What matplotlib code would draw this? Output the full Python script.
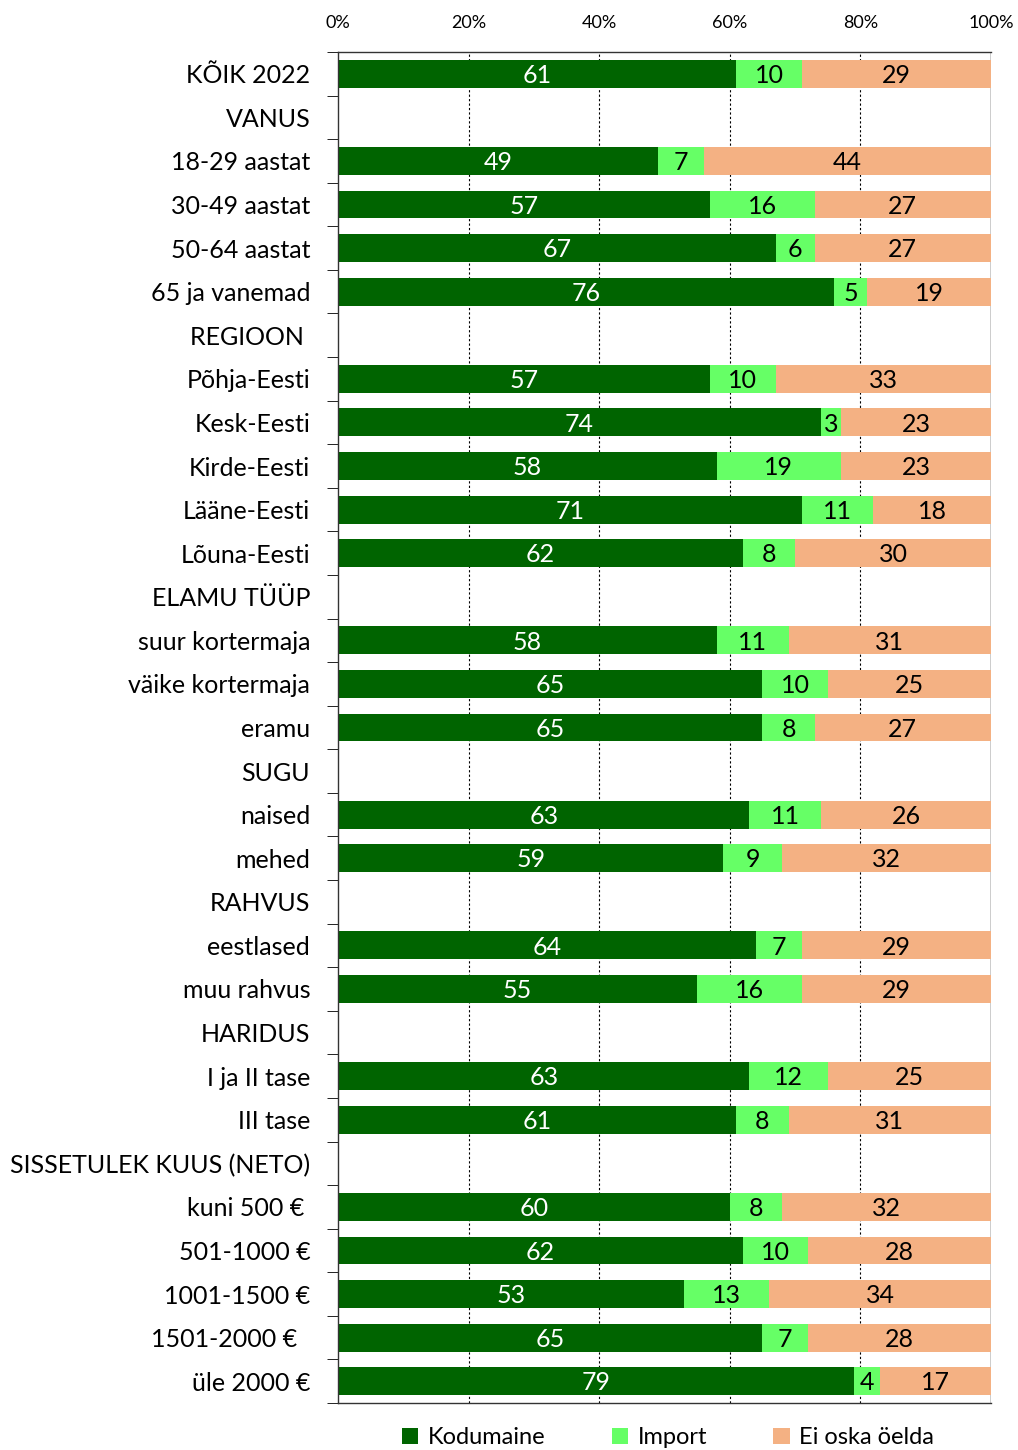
import matplotlib.pyplot as plt
import numpy as np

plt.rcParams['font.family'] = ['Lato', 'DejaVu Sans']

labels = ['KÕIK 2022', 'VANUS', '18-29 aastat', '30-49 aastat', '50-64 aastat', '65 ja vanemad',
          'REGIOON ', 'Põhja-Eesti', 'Kesk-Eesti', 'Kirde-Eesti', 'Lääne-Eesti', 'Lõuna-Eesti',
          'ELAMU TÜÜP', 'suur kortermaja', 'väike kortermaja', 'eramu', 'SUGU', 'naised', 'mehed',
          'RAHVUS', 'eestlased', 'muu rahvus', 'HARIDUS', 'I ja II tase', 'III tase',
          'SISSETULEK KUUS (NETO)', 'kuni 500 € ', '501-1000 €', '1001-1500 €', '1501-2000 €  ', 'üle 2000 €']

# None = header row, no bar
kodumaine = [61, None, 49, 57, 67, 76, None, 57, 74, 58, 71, 62, None, 58, 65, 65, None, 63, 59,
             None, 64, 55, None, 63, 61, None, 60, 62, 53, 65, 79]
import_ = [10, None, 7, 16, 6, 5, None, 10, 3, 19, 11, 8, None, 11, 10, 8, None, 11, 9,
           None, 7, 16, None, 12, 8, None, 8, 10, 13, 7, 4]
ei_oska = [29, None, 44, 27, 27, 19, None, 33, 23, 23, 18, 30, None, 31, 25, 27, None, 26, 32,
           None, 29, 29, None, 25, 31, None, 32, 28, 34, 28, 17]

series = [('Kodumaine', kodumaine, '#006400', 'white'),
          ('Import', import_, '#66FF66', 'black'),
          ('Ei oska öelda', ei_oska, '#F4B183', 'black')]

fig = plt.figure(figsize=(10.18, 14.5), dpi=100)
ax = fig.add_axes([338/1018, 47/1450, 653/1018, 1351/1450])

n = len(labels)
y = np.arange(n)
left = np.zeros(n)
for name, vals, col, tcol in series:
    v = np.array([0 if x is None else x for x in vals], dtype=float)
    ax.barh(y, v, left=left, height=0.64, color=col, label=name, zorder=2)
    for i in range(n):
        if vals[i] is None:
            continue
        ax.text(left[i] + v[i] / 2, y[i] + 0.04, str(vals[i]), ha='center', va='center',
                color=tcol, fontsize=18, zorder=3)
    left = left + v

ax.set_xlim(0, 100)
ax.set_ylim(n - 0.5, -0.5)
ax.set_yticks(y)
ax.set_yticklabels(labels, fontsize=18)
ax.set_yticks(np.arange(-0.5, n, 1), minor=True)
ax.tick_params(axis='y', which='major', length=0, pad=20)
ax.tick_params(axis='y', which='minor', length=8, direction='out')

ax.xaxis.tick_top()
ax.set_xticks([0, 20, 40, 60, 80, 100])
ax.set_xticklabels(['0%', '20%', '40%', '60%', '80%', '100%'], fontsize=13)
ax.tick_params(axis='x', length=0, pad=15)
for xv in [20, 40, 60, 80]:
    ax.axvline(xv, color='black', lw=0.8, ls=(0, (2, 2)), zorder=1)
ax.axvline(100, color='black', lw=1, zorder=1)
for s in ax.spines.values():
    s.set_color('#333333')
    s.set_linewidth(1)
ax.spines['right'].set_visible(False)

h, l = ax.get_legend_handles_labels()
fig.legend(h, l, loc='lower center', bbox_to_anchor=(668/1018, -0.007), ncol=3, frameon=False,
           fontsize=17, handlelength=0.7, handleheight=0.7, columnspacing=2.8,
           handletextpad=0.4, borderpad=0.0)

fig.savefig('out.png', dpi=100)
